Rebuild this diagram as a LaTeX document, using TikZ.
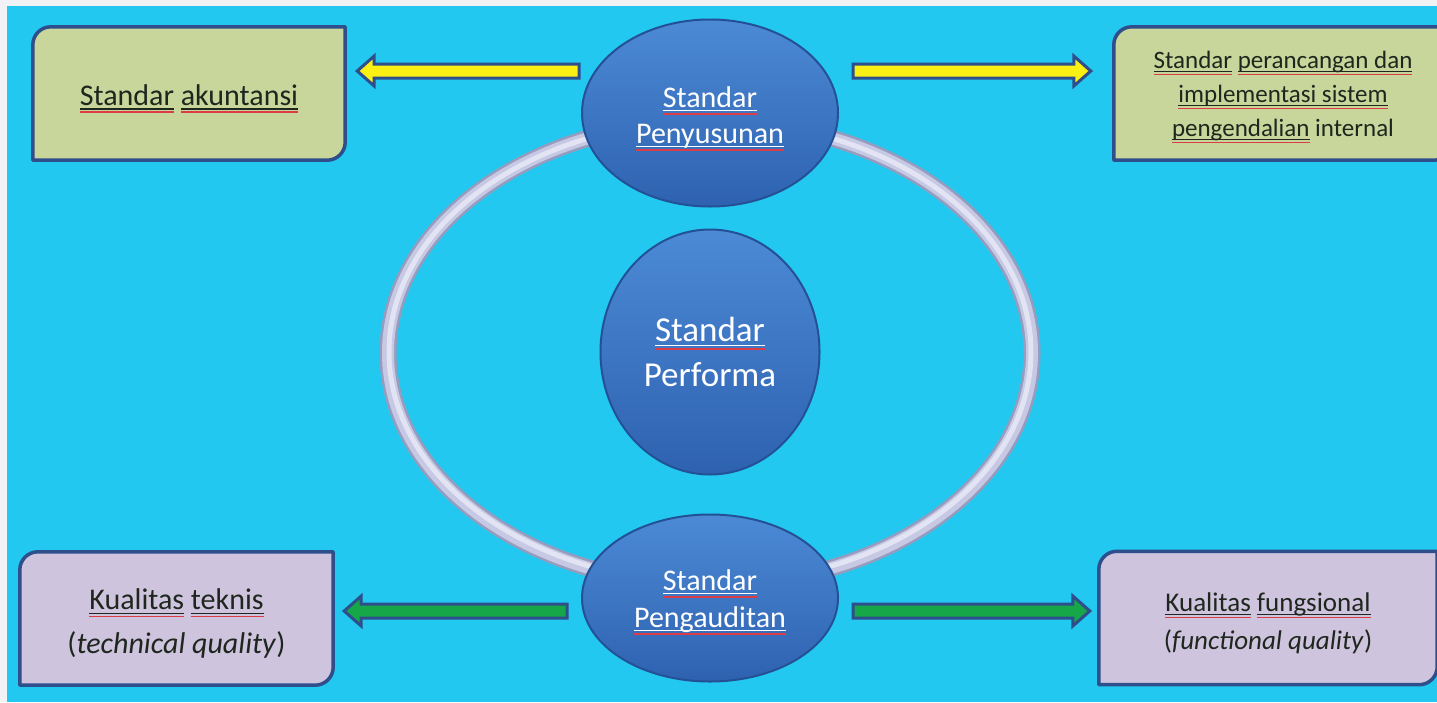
\documentclass[tikz,border=0pt]{standalone}
\usepackage{fontspec}
\setmainfont{Carlito}
\usetikzlibrary{shapes.geometric,calc}
\definecolor{bgcyan}{RGB}{34,200,240}
\definecolor{marginwhite}{RGB}{240,242,246}
\definecolor{boxgreen}{RGB}{200,214,156}
\definecolor{boxlilac}{RGB}{206,196,222}
\definecolor{frameblue}{RGB}{46,78,140}
\definecolor{ballhi}{RGB}{76,138,214}
\definecolor{balllo}{RGB}{46,98,176}
\definecolor{ballrim}{RGB}{36,80,150}
\definecolor{arryellow}{RGB}{250,240,20}
\definecolor{arrgreen}{RGB}{22,168,72}
\definecolor{ringdark}{RGB}{150,156,190}
\definecolor{ringmid}{RGB}{198,200,228}
\definecolor{ringlight}{RGB}{226,228,244}
\definecolor{sqred}{RGB}{220,60,70}
\definecolor{inkdark}{RGB}{30,38,30}
\newsavebox\wubox
\newcommand\wu[1]{\sbox\wubox{#1}\rlap{\color{sqred}\rule[-0.25em]{\wd\wubox}{0.06em}}\rlap{\rule[-0.14em]{\wd\wubox}{0.05em}}\usebox\wubox}
\newcommand\tstrut[1]{\rule{0pt}{#1}}
\pgfdeclarelayer{bg}
\pgfdeclarelayer{frames}
\pgfsetlayers{bg,frames,main}
\newcommand\diagframe[3]{%
\begin{pgfonlayer}{frames}
\filldraw[boxframe,fill=#3] ($(#1.north west)+(0,#2)$) .. controls ($(#1.north west)+(0,0.45*#2)$) and ($(#1.north west)+(0.45*#2,0)$) .. ($(#1.north west)+(#2,0)$) -- (#1.north east) -- ($(#1.south east)+(0,-#2)$) .. controls ($(#1.south east)+(0,-0.45*#2)$) and ($(#1.south east)+(-0.45*#2,0)$) .. ($(#1.south east)+(-#2,0)$) -- (#1.south west) -- cycle;
\end{pgfonlayer}}
\newcommand\blockarrow[3]{%
\coordinate (ba-s) at #2;
\coordinate (ba-t) at #3;
\coordinate (ba-b) at ($(ba-t)!17pt!(ba-s)$);
\filldraw[#1] ($(ba-s)+(0,-7)$) -- ($(ba-b)+(0,-7)$) -- ($(ba-b)+(0,-15)$) -- (ba-t) -- ($(ba-b)+(0,15)$) -- ($(ba-b)+(0,7)$) -- ($(ba-s)+(0,7)$) -- cycle;}
\begin{document}
\begin{tikzpicture}[x=1pt,y=-1pt,
  boxtext/.style={draw=none,inner sep=0pt,text=inkdark,align=center},
  bluedisc/.style={ellipse,inner sep=0pt,draw=ballrim,line width=2pt,top color=ballhi,bottom color=balllo,text=white,align=center},
  boxframe/.style={draw=frameblue,line width=3.5pt,line join=round},
  yarr/.style={fill=arryellow,draw=frameblue,line width=3pt,line join=miter},
  garr/.style={fill=arrgreen,draw=frameblue,line width=3pt,line join=miter}]
\useasboundingbox (0,0) rectangle (1437,702);
\begin{pgfonlayer}{bg}
\fill[marginwhite] (0,0) rectangle (1437,702);
\fill[bgcyan] (7,6) rectangle (1437,702);
\end{pgfonlayer}
% ring
\draw[ringdark,line width=17pt] (710,353) ellipse [x radius=322pt,y radius=232pt];
\draw[ringmid,line width=12pt] (710,353) ellipse [x radius=322pt,y radius=232pt];
\draw[ringlight,line width=5pt] (710,352) ellipse [x radius=321pt,y radius=231pt];
% circles
\node[bluedisc,minimum width=256pt,minimum height=187pt,font=\fontsize{30}{36}\selectfont] (top) at (710,113) {\tstrut{1.05em}\wu{Standar}\\\wu{Penyusunan}};
\node[bluedisc,minimum width=219pt,minimum height=245pt,font=\fontsize{35}{45}\selectfont] (mid) at (710,352) {\wu{Standar}\\Performa};
\node[bluedisc,minimum width=256pt,minimum height=167pt,font=\fontsize{30}{37}\selectfont] (bot) at (710,598) {\tstrut{0.95em}\wu{Standar}\\\wu{Pengauditan}};
% boxes
\node[boxtext,minimum width=312pt,minimum height=133pt,font=\fontsize{30}{36}\selectfont] (sa) at (189,93.5) {\tstrut{1.05em}\wu{Standar} \wu{akuntansi}};
\node[boxtext,minimum width=338pt,minimum height=133pt,font=\fontsize{25}{34}\selectfont] (sp) at (1283,93.5) {\tstrut{1.0em}\wu{Standar} \wu{perancangan dan}\\\wu{implementasi sistem}\\\wu{pengendalian} internal};
\node[boxtext,minimum width=313pt,minimum height=133pt,font=\fontsize{30}{44}\selectfont] (kt) at (176.5,618.5) {\tstrut{1.05em}\wu{Kualitas} \wu{teknis}\\(\textit{technical quality})};
\node[boxtext,minimum width=338pt,minimum height=133pt,font=\fontsize{27}{38}\selectfont] (kf) at (1268,618) {\tstrut{1.08em}\wu{Kualitas} \wu{fungsional}\\(\textit{functional quality})};
\diagframe{sa}{18}{boxgreen}
\diagframe{sp}{18}{boxgreen}
\diagframe{kt}{18}{boxlilac}
\diagframe{kf}{18}{boxlilac}
% arrows
\coordinate (y1s) at ($(top.west)+(-2,-42)$);
\blockarrow{yarr}{(y1s)}{($(sa.east |- y1s)+(12,0)$)}
\coordinate (y2s) at ($(top.east)+(14,-42)$);
\blockarrow{yarr}{(y2s)}{($(sp.west |- y2s)+(-23,0)$)}
\coordinate (g1s) at ($(bot.west)+(-14,13)$);
\blockarrow{garr}{(g1s)}{($(kt.east |- g1s)+(11,0)$)}
\coordinate (g2s) at ($(bot.east)+(14,13)$);
\blockarrow{garr}{(g2s)}{($(kf.west |- g2s)+(-9,0)$)}
\end{tikzpicture}
\end{document}
